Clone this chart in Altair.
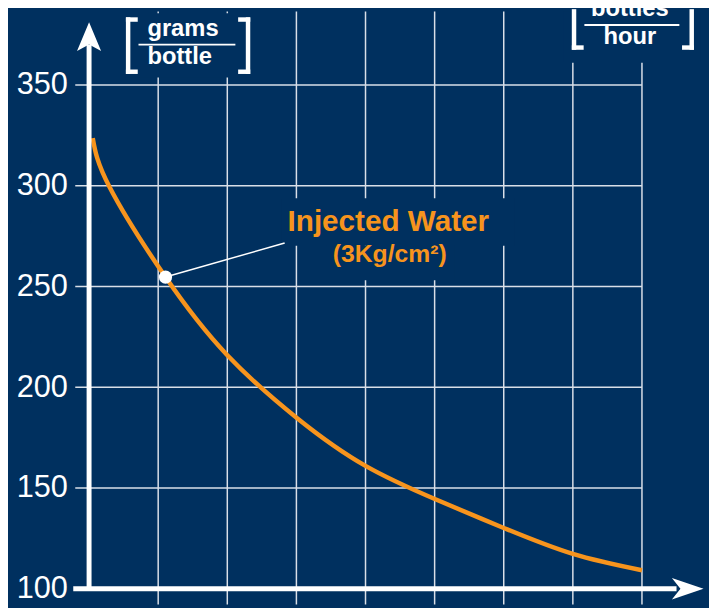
import altair as alt
import pandas as pd

# ---------------- data ----------------
curve_x = [0.053, 0.296, 1.106, 1.99, 3.02, 4.0, 5.02, 6.0, 7.0, 8.0]
curve_y = [323.7, 299.4, 254.7, 216.3, 184.4, 161.0, 144.3, 130.2, 117.3, 109.2]

y_ticks = [100, 150, 200, 250, 300, 350]
hgrid_y = [150, 200, 250, 300, 350]
vgrid_x = [1, 2, 3, 4, 5, 6, 7, 8]

marker_x = [1.106]
marker_y = [254.7]

# ---------------- style ----------------
BG = "#00305F"
ORANGE = "#F7941D"
GRID = "#D9DFE8"
FONT = "Liberation Sans"

X_DOM = [-0.2289, 8.970]
Y_DOM = [92.15, 386.55]

xs = alt.Scale(domain=X_DOM, nice=False, zero=False)
ys = alt.Scale(domain=Y_DOM, nice=False, zero=False)
yaxis = alt.Axis(
    values=y_ticks, title=None, grid=False, domain=False, ticks=False,
    labelFont=FONT, labelFontSize=31, labelColor="white", labelPadding=6,
    labelBaseline="middle")


def X(f):
    return alt.X(f, scale=xs, axis=None)


def Y(f):
    return alt.Y(f, scale=ys, axis=yaxis)


# ---------------- tables ----------------
curve_df = pd.DataFrame({"x": curve_x, "y": curve_y})
hgrid_df = pd.DataFrame({"y": hgrid_y, "x": [-0.2] * len(hgrid_y), "x2": [8.0] * len(hgrid_y)})
vgrid_df = pd.DataFrame({"x": vgrid_x})

cover_df = pd.DataFrame({
    "x": [0.53, 6.87, 2.79, 3.43],
    "x2": [2.33, 8.84, 6.15, 5.29],
    "y": [353.7, 361.0, 270.2, 253.1],
    "y2": [385.6, 386.55, 293.8, 270.2],
})

bar_df = pd.DataFrame({
    "x": [0.565, 2.300, 7.017, 8.720],
    "y": [356.6, 356.6, 368.6, 368.6],
    "y2": [382.5, 382.5, 386.55, 386.55],
})
serif_df = pd.DataFrame({
    "x": [0.565, 0.565, 2.300, 2.300, 7.017, 8.720],
    "x2": [0.672, 0.672, 2.189, 2.189, 7.124, 8.612],
    "y": [382.5, 356.6, 382.5, 356.6, 368.6, 368.6],
})
frac_df = pd.DataFrame({"x": [0.715, 7.167], "x2": [2.117, 8.541], "y": [370.0, 379.8]})

unit_text_df = pd.DataFrame({
    "x": [0.844, 0.844],
    "y": [374.3, 360.2],
    "t": ["grams", "bottle"],
})
unit2_text_df = pd.DataFrame({
    "x": [7.825, 7.825],
    "y": [384.3, 370.6],
    "t": ["bottles", "hour"],
})

leader_df = pd.DataFrame({"x": [1.106], "x2": [2.83], "y": [254.7], "y2": [271.6]})
ann_df = pd.DataFrame({"x": [4.33, 4.35], "y": [277.6, 262.1],
                       "t": ["Injected Water", "(3Kg/cm²)"], "s": [30, 25]})

axis_v_df = pd.DataFrame({"x": [0.0], "y": [99.0], "y2": [370.0]})
axis_h_df = pd.DataFrame({"x": [-0.2289], "x2": [8.5], "y": [100.0]})
arrow_up_df = pd.DataFrame({"x": [0.0], "y": [374.0]})
arrow_right_df = pd.DataFrame({"x": [8.662], "y": [100.0]})

# ---------------- layers ----------------
vgrid = alt.Chart(vgrid_df).mark_rule(color=GRID, strokeWidth=1.5).encode(x=X("x:Q"))
hgrid = alt.Chart(hgrid_df).mark_rule(color=GRID, strokeWidth=1.5).encode(
    x=X("x:Q"), x2="x2:Q", y=Y("y:Q")
)
covers = alt.Chart(cover_df).mark_rect(color=BG).encode(
    x=X("x:Q"), x2="x2:Q", y=Y("y:Q"), y2="y2:Q"
)
curve = alt.Chart(curve_df).mark_line(color=ORANGE, strokeWidth=4.5, interpolate="natural").encode(
    x=X("x:Q"), y=Y("y:Q")
)
leader = alt.Chart(leader_df).mark_rule(color="white", strokeWidth=1.5).encode(
    x=X("x:Q"), x2="x2:Q", y=Y("y:Q"), y2="y2:Q"
)
marker = alt.Chart(pd.DataFrame({"x": marker_x, "y": marker_y})).mark_circle(
    color="white", opacity=1, size=180).encode(x=X("x:Q"), y=Y("y:Q"))
axis_v = alt.Chart(axis_v_df).mark_rule(color="white", strokeWidth=5).encode(
    x=X("x:Q"), y=Y("y:Q"), y2="y2:Q"
)
axis_h = alt.Chart(axis_h_df).mark_rule(color="white", strokeWidth=5).encode(
    x=X("x:Q"), x2="x2:Q", y=Y("y:Q")
)
arrow_up = alt.Chart(arrow_up_df).mark_point(
    shape="M0,-1L0.84,1L0,0.55L-0.84,1Z", size=841, filled=True, color="white", opacity=1
).encode(x=X("x:Q"), y=Y("y:Q"))
arrow_right = alt.Chart(arrow_right_df).mark_point(
    shape="M1,0L-1,-0.675L-0.46,0L-1,0.675Z", size=1024, filled=True, color="white", opacity=1
).encode(x=X("x:Q"), y=Y("y:Q"))

bars = alt.Chart(bar_df).mark_rule(color="white", strokeWidth=4.5, strokeCap="square").encode(
    x=X("x:Q"), y=Y("y:Q"), y2="y2:Q"
)
serifs = alt.Chart(serif_df).mark_rule(color="white", strokeWidth=4.5, strokeCap="square").encode(
    x=X("x:Q"), x2="x2:Q", y=Y("y:Q")
)
fracs = alt.Chart(frac_df).mark_rule(color="white", strokeWidth=1.8).encode(
    x=X("x:Q"), x2="x2:Q", y=Y("y:Q")
)
unit_text = alt.Chart(unit_text_df).mark_text(
    font=FONT, fontWeight="bold", fontSize=24, color="white", align="left", baseline="alphabetic"
).encode(x=X("x:Q"), y=Y("y:Q"), text="t:N")
unit2_text = alt.Chart(unit2_text_df).mark_text(
    font=FONT, fontWeight="bold", fontSize=24, color="white", align="center", baseline="alphabetic"
).encode(x=X("x:Q"), y=Y("y:Q"), text="t:N")
ann_text = alt.Chart(ann_df).mark_text(
    font=FONT, fontWeight="bold", color=ORANGE, align="center", baseline="alphabetic"
).encode(x=X("x:Q"), y=Y("y:Q"), text="t:N",
         size=alt.Size("s:Q", scale=None, legend=None))

chart = alt.layer(
    vgrid, hgrid, covers, curve, leader, marker, axis_v, axis_h,
    arrow_up, arrow_right, bars, serifs, fracs, unit_text, unit2_text, ann_text
).properties(
    width=643, height=600,
    padding={"left": 66, "top": 0, "right": 0, "bottom": 0},
    autosize=alt.AutoSizeParams(type="none"),
    background=BG,
).configure_view(stroke=None)

chart.save("out.html", embed_options={"renderer": "svg", "actions": False})
